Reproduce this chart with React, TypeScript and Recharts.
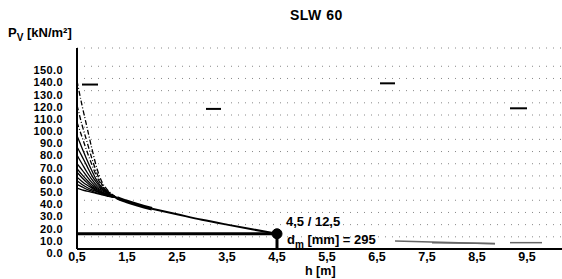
import { LineChart, Line, XAxis, YAxis, CartesianGrid, ReferenceLine, ReferenceDot } from 'recharts';

const title = 'SLW 60';
const yTicks = [0, 10, 20, 30, 40, 50, 60, 70, 80, 90, 100, 110, 120, 130, 140, 150];
const xTicks = [0.5, 1.5, 2.5, 3.5, 4.5, 5.5, 6.5, 7.5, 8.5, 9.5];

const fanH = [0.5, 0.6, 0.7, 0.8, 0.9, 1.0, 1.1, 1.2, 1.3];
const fanCurves = [
  [138, 118, 100, 82, 66, 55, 49, 45, 42],
  [118, 102, 88, 74, 62, 53, 48, 44.5, 42],
  [104, 92, 80, 69, 59, 52, 47.5, 44.5, 42],
  [93, 83, 73, 64, 56, 50.5, 47, 44, 42],
  [84, 76, 68, 60, 54, 49.5, 46.5, 44, 42],
  [77, 70, 63, 57, 52, 49, 46, 43.5, 42],
  [70, 65, 59.5, 54.5, 50.5, 48, 45.5, 43.5, 42],
  [66, 61, 56.5, 52.5, 49.5, 47, 45, 43.5, 42],
  [63, 58.5, 54.5, 51, 48.5, 46.5, 44.5, 43, 42],
  [59, 55.5, 52.5, 50, 47.5, 46, 44.5, 43, 42],
  [56, 53, 50.5, 48.5, 47, 45.5, 44, 43, 42],
  [53, 51, 49, 47.5, 46, 45, 44, 43, 42],
  [50, 48.5, 47.5, 46.5, 45.5, 44.5, 43.5, 42.5, 42],
];
const dashedCurves = 3;

// common tail of all curves
const tailH = [1.3, 1.5, 2.0, 2.5, 3.0, 3.5, 4.0, 4.5];
const tailPv = [42, 39, 33, 28.5, 24, 20, 16.2, 12.5];

const pointH = 4.5;
const pointPv = 12.5;
const dmValue = 295;

// short legend-like dashes: [hFrom, hTo, pv]
const topDashes = [
  [0.6, 0.92, 135],
  [3.08, 3.38, 115],
  [6.56, 6.86, 136],
  [9.16, 9.5, 115.5],
];
// faint grey strokes after the dm text: [h1, pv1, h2, pv2]
const greyStrokes = [
  [6.86, 6.6, 8.86, 4.4],
  [7.6, 5.2, 8.86, 4.6],
  [9.16, 5.2, 9.8, 5.2],
];

const font = '"Liberation Sans", Arial, sans-serif';

const toRows = (hs: number[], vs: number[]) => hs.map((h, i) => ({ h, pv: vs[i] }));

const tailThick = toRows(tailH.slice(0, 3), tailPv.slice(0, 3));
const tailThin = toRows(tailH.slice(2), tailPv.slice(2));

function YTick({ x, y, payload }: any) {
  return (
    <text x={x} y={y + 4} dy="0.355em" textAnchor="end" fontSize={11} letterSpacing={0.4} fontWeight={700} fontFamily={font} fill="#000">
      {Number(payload.value).toFixed(1)}
    </text>
  );
}

function XTick({ x, y, payload }: any) {
  return (
    <text x={x} y={y} dy="0.71em" textAnchor="middle" fontSize={12.5} fontWeight={700} fontFamily={font} fill="#000">
      {Number(payload.value).toFixed(1).replace('.', ',')}
    </text>
  );
}

const txt: React.CSSProperties = {
  position: 'absolute',
  fontFamily: font,
  fontWeight: 700,
  color: '#000',
  whiteSpace: 'nowrap',
  lineHeight: 1,
};

export default function App() {
  return (
    <div style={{ position: 'absolute', left: 0, top: 0, width: 562, height: 279, background: '#fff' }}>
      <LineChart width={562} height={279} margin={{ top: 48, right: 0, left: 0, bottom: 0 }}>
        <CartesianGrid vertical={false} stroke="#888" strokeDasharray="1 6" />
        <XAxis
          type="number"
          dataKey="h"
          domain={[0.5, 10.2]}
          ticks={xTicks}
          interval={0}
          allowDataOverflow
          height={30}
          tickSize={0}
          tickMargin={3}
          tick={<XTick />}
          axisLine={{ stroke: '#000', strokeWidth: 2 }}
        />
        <YAxis
          type="number"
          domain={[0, 165]}
          ticks={yTicks}
          interval={0}
          allowDataOverflow
          width={77}
          tickSize={0}
          tickMargin={14}
          tick={<YTick />}
          axisLine={{ stroke: '#000', strokeWidth: 2 }}
        />
        {topDashes.map(([a, b, v], i) => (
          <ReferenceLine key={'d' + i} segment={[{ x: a, y: v }, { x: b, y: v }]} stroke="#000" strokeWidth={2} />
        ))}
        {greyStrokes.map(([a, v1, b, v2], i) => (
          <ReferenceLine key={'g' + i} segment={[{ x: a, y: v1 }, { x: b, y: v2 }]} stroke="#666" strokeWidth={1.5} />
        ))}
        <ReferenceLine segment={[{ x: 0.5, y: pointPv }, { x: pointH, y: pointPv }]} stroke="#000" strokeWidth={3} />
        <ReferenceLine segment={[{ x: pointH, y: pointPv }, { x: pointH, y: 0 }]} stroke="#000" strokeWidth={3} />
        {fanCurves.map((c, i) => (
          <Line
            key={'c' + i}
            data={toRows(fanH, c)}
            dataKey="pv"
            type="monotone"
            stroke="#000"
            strokeWidth={1.3}
            strokeDasharray={i < dashedCurves ? '5 2 1 2' : undefined}
            dot={false}
            isAnimationActive={false}
          />
        ))}
        <Line data={tailThick} dataKey="pv" type="monotone" stroke="#000" strokeWidth={3.5} dot={false} isAnimationActive={false} />
        <Line data={tailThin} dataKey="pv" type="monotone" stroke="#000" strokeWidth={2} dot={false} isAnimationActive={false} />
        <ReferenceDot x={pointH} y={pointPv} r={5} fill="#000" stroke="#000" />
      </LineChart>
      <div style={{ ...txt, left: 290, top: 8, fontSize: 14, letterSpacing: 0.5 }}>{title}</div>
      <div style={{ ...txt, left: 8, top: 26, fontSize: 13 }}>
        P<sub style={{ fontSize: 10 }}>V</sub> [kN/m²]
      </div>
      <div style={{ ...txt, left: 305, top: 265, fontSize: 12.5 }}>h [m]</div>
      <div style={{ ...txt, left: 286, top: 215, fontSize: 13 }}>4,5 / 12,5</div>
      <div style={{ ...txt, left: 287, top: 233, fontSize: 13 }}>
        d<sub style={{ fontSize: 10 }}>m</sub> [mm] = {dmValue}
      </div>
    </div>
  );
}
